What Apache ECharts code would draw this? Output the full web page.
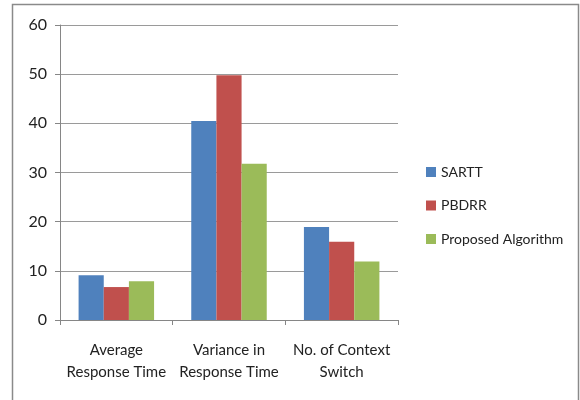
<!DOCTYPE html>
<html><head><meta charset="utf-8">
<script src="https://cdn.jsdelivr.net/npm/echarts@6/dist/echarts.min.js"></script>
<style>html,body{margin:0;padding:0;background:#fff}#c{width:580px;height:400px}</style>
</head><body><div id="c"></div>
<script>
const categories = ['Average\nResponse Time', 'Variance in\nResponse Time', 'No. of Context\nSwitch'];
const seriesNames = ['SARTT', 'PBDRR', 'Proposed Algorithm'];
const sartt = [9.1, 40.5, 18.9];
const pbdrr = [6.7, 49.8, 15.9];
const proposed = [7.9, 31.8, 11.9];
const yTicks = [0, 10, 20, 30, 40, 50, 60];
const colors = ['#4F81BD', '#C0504D', '#9BBB59'];
const values = [sartt, pbdrr, proposed];

const chart = echarts.init(document.getElementById('c'), null, {renderer: 'canvas'});
const font = 'Lato, "Open Sans", sans-serif';
chart.setOption({
  animation: false,
  backgroundColor: '#fff',
  graphic: [{
    type: 'rect', shape: {x: 12.5, y: 4.5, width: 566, height: 420},
    style: {fill: 'none', stroke: '#8a8a8a', lineWidth: 1.5}, silent: true
  }],
  grid: {left: 60, right: 182, top: 25, bottom: 80},
  legend: {
    orient: 'vertical', left: 421, top: 160, itemWidth: 10, itemHeight: 10, itemGap: 19.5,
    icon: 'rect',
    textStyle: {fontFamily: font, fontSize: 14, color: '#222'},
    data: seriesNames
  },
  xAxis: {
    type: 'category', data: categories,
    axisLine: {lineStyle: {color: '#868686'}},
    axisTick: {show: true, length: 5, lineStyle: {color: '#868686'}},
    axisLabel: {fontFamily: font, fontSize: 15, color: '#222', margin: 19, lineHeight: 22, interval: 0}
  },
  yAxis: {
    type: 'value', min: yTicks[0], max: yTicks[yTicks.length - 1], interval: 10,
    axisLine: {show: true, lineStyle: {color: '#868686'}},
    axisTick: {show: true, length: 5, lineStyle: {color: '#868686'}},
    splitLine: {lineStyle: {color: '#9a9a9a'}},
    axisLabel: {fontFamily: font, fontSize: 16, color: '#222', margin: 13}
  },
  series: seriesNames.map((n, i) => ({
    name: n, type: 'bar', data: values[i],
    itemStyle: {color: colors[i]},
    barGap: '0%', barCategoryGap: '33%'
  }))
});
</script></body></html>
